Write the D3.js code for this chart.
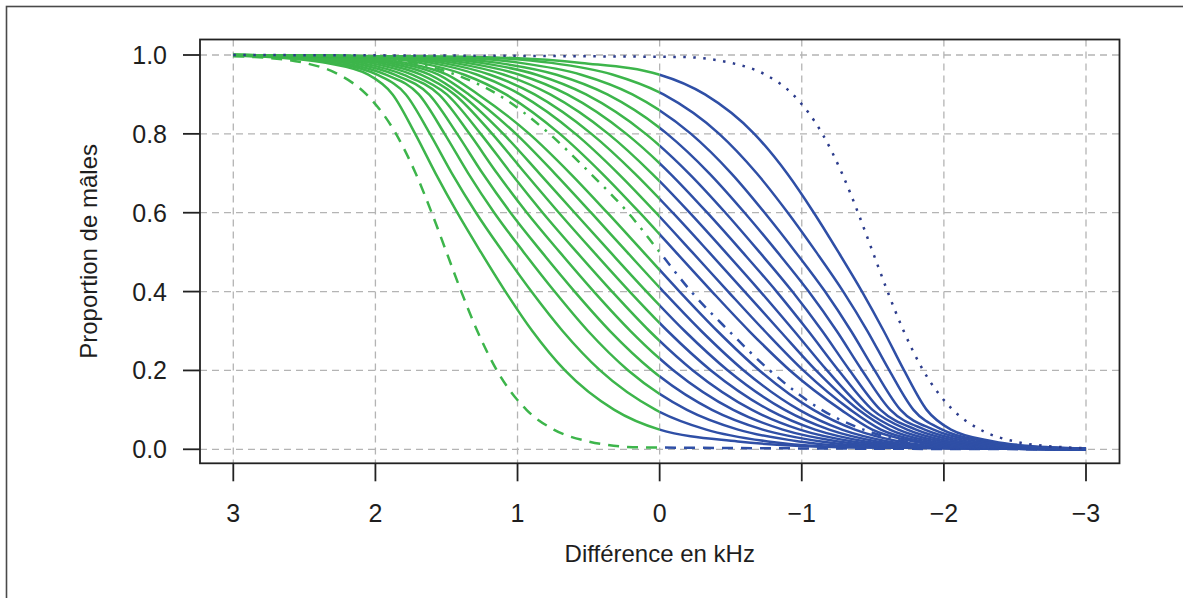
<!DOCTYPE html>
<html>
<head>
<meta charset="utf-8">
<script src="https://cdn.jsdelivr.net/npm/d3@7"></script>
<style>
  html, body { margin: 0; padding: 0; background: #fff; }
  svg { display: block; }
  text { font-family: "Liberation Sans", Arial, Helvetica, sans-serif; fill: #1e1e1e; }
</style>
</head>
<body>
<svg id="chart" width="1183" height="598"></svg>
<script>
// ---------- data ----------
const xTicks = [3, 2, 1, 0, -1, -2, -3];
const xTickLabels = ["3", "2", "1", "0", "\u22121", "\u22122", "\u22123"];
const yTicks = [0, 0.2, 0.4, 0.6, 0.8, 1.0];
const yTickLabels = ["0.0", "0.2", "0.4", "0.6", "0.8", "1.0"];
const xTitle = "Diff\u00e9rence en kHz";
const yTitle = "Proportion de m\u00e2les";

// proportion levels at which each curve's x position was read
const levels = [0.995, 0.98, 0.95, 0.9, 0.8, 0.7, 0.6, 0.5, 0.4, 0.3, 0.2, 0.1, 0.05, 0.02, 0.005];

// x (kHz) where each curve crosses the levels above
const curveDashed = [2.857, 2.498, 2.255, 2.063, 1.855, 1.717, 1.604, 1.5, 1.396, 1.283, 1.145, 0.937, 0.745, 0.502, 0.143];
const curveG01 = [2.75, 2.35, 2.05, 1.879, 1.72, 1.577, 1.424, 1.258, 1.085, 0.896, 0.666, 0.319, 0.0, -0.55, -1.30];
const curveG02 = [2.683, 2.288, 1.988, 1.786, 1.616, 1.462, 1.292, 1.102, 0.902, 0.683, 0.419, 0.027, -0.328, -0.761, -1.369];
const curveG03 = [2.616, 2.225, 1.927, 1.695, 1.513, 1.347, 1.164, 0.957, 0.739, 0.504, 0.221, -0.192, -0.552, -0.980, -1.548];
const curveG04 = [2.548, 2.163, 1.865, 1.623, 1.425, 1.246, 1.049, 0.829, 0.598, 0.349, 0.053, -0.368, -0.725, -1.136, -1.664];
const curveG05 = [2.481, 2.100, 1.804, 1.554, 1.338, 1.144, 0.934, 0.703, 0.463, 0.205, -0.098, -0.518, -0.866, -1.256, -1.747];
const curveG06 = [2.414, 2.038, 1.742, 1.498, 1.259, 1.046, 0.823, 0.583, 0.335, 0.072, -0.234, -0.650, -0.986, -1.357, -1.817];
const curveG07 = [2.347, 1.976, 1.680, 1.444, 1.178, 0.946, 0.709, 0.463, 0.211, -0.056, -0.361, -0.770, -1.094, -1.447, -1.882];
const curveG08 = [2.280, 1.913, 1.619, 1.399, 1.100, 0.847, 0.598, 0.347, 0.092, -0.176, -0.480, -0.880, -1.193, -1.530, -1.942];
const curveG09 = [2.212, 1.851, 1.557, 1.343, 1.011, 0.739, 0.482, 0.229, -0.026, -0.293, -0.592, -0.982, -1.283, -1.607, -2.000];
const curveG10 = [2.145, 1.788, 1.496, 1.277, 0.917, 0.630, 0.368, 0.114, -0.140, -0.406, -0.702, -1.082, -1.374, -1.686, -2.061];
const curveDashDot = [2.078, 1.726, 1.434, 1.140, 0.775, 0.488, 0.222, 0.0, -0.222, -0.488, -0.775, -1.140, -1.434, -1.726, -2.078];
const curveB01 = [2.061, 1.686, 1.374, 1.082, 0.702, 0.406, 0.140, -0.114, -0.368, -0.630, -0.917, -1.277, -1.496, -1.788, -2.145];
const curveB02 = [2.000, 1.607, 1.283, 0.982, 0.592, 0.293, 0.026, -0.229, -0.482, -0.739, -1.011, -1.343, -1.557, -1.851, -2.212];
const curveB03 = [1.942, 1.530, 1.193, 0.880, 0.480, 0.176, -0.092, -0.347, -0.598, -0.847, -1.100, -1.399, -1.619, -1.913, -2.280];
const curveB04 = [1.882, 1.447, 1.094, 0.770, 0.361, 0.056, -0.211, -0.463, -0.709, -0.946, -1.178, -1.444, -1.680, -1.976, -2.347];
const curveB05 = [1.817, 1.357, 0.986, 0.650, 0.234, -0.072, -0.335, -0.583, -0.823, -1.046, -1.259, -1.498, -1.742, -2.038, -2.414];
const curveB06 = [1.747, 1.256, 0.866, 0.518, 0.098, -0.205, -0.463, -0.703, -0.934, -1.144, -1.338, -1.554, -1.804, -2.100, -2.481];
const curveB07 = [1.664, 1.136, 0.725, 0.368, -0.053, -0.349, -0.598, -0.829, -1.049, -1.246, -1.425, -1.623, -1.865, -2.163, -2.548];
const curveB08 = [1.548, 0.980, 0.552, 0.192, -0.221, -0.504, -0.739, -0.957, -1.164, -1.347, -1.513, -1.695, -1.927, -2.225, -2.616];
const curveB09 = [1.369, 0.761, 0.328, -0.027, -0.419, -0.683, -0.902, -1.102, -1.292, -1.462, -1.616, -1.786, -1.988, -2.288, -2.683];
const curveB10 = [1.30, 0.55, 0.0, -0.319, -0.666, -0.896, -1.085, -1.258, -1.424, -1.577, -1.72, -1.879, -2.05, -2.35, -2.75];
const curveDotted = [-0.143, -0.502, -0.745, -0.937, -1.145, -1.283, -1.396, -1.5, -1.604, -1.717, -1.855, -2.063, -2.255, -2.498, -2.857];

// proportion at x = 3 (left end) and x = -3 (right end), same order as curveList
const endAt3 = [0.997, 0.998, 0.999, 0.999, 0.999, 0.999, 0.9993, 0.9993, 0.9995, 0.9995, 0.9995, 0.9995,
                0.9996, 0.9996, 0.9997, 0.9997, 0.9998, 0.9998, 0.9999, 0.9999, 0.9999, 0.9999, 1.0];
const endAtMinus3 = [0.0, 0.0001, 0.0001, 0.0001, 0.0001, 0.0002, 0.0002, 0.0002, 0.0003, 0.0003, 0.0004, 0.0005,
                     0.0005, 0.0005, 0.0007, 0.0008, 0.001, 0.001, 0.0012, 0.0015, 0.0018, 0.002, 0.003];
const curveList = [curveDashed, curveG01, curveG02, curveG03, curveG04, curveG05, curveG06, curveG07, curveG08, curveG09, curveG10,
                   curveDashDot,
                   curveB01, curveB02, curveB03, curveB04, curveB05, curveB06, curveB07, curveB08, curveB09, curveB10, curveDotted];
const curveTypes = ["dashed", "solid", "solid", "solid", "solid", "solid", "solid", "solid", "solid", "solid", "solid",
                    "dashdot",
                    "solid", "solid", "solid", "solid", "solid", "solid", "solid", "solid", "solid", "solid", "dotted"];

// ---------- layout ----------
const W = 1183, H = 598;
const box = { left: 200, right: 1119.5, top: 39.5, bottom: 463.3 };
const green = "#3db54b", blue = "#2f4fa6", blueDot = "#2c3c8c";
const lw = 2.5;

const svg = d3.select("#chart");

// outer frame
svg.append("rect").attr("x", 6.5).attr("y", 6.5).attr("width", W + 20).attr("height", H + 20)
  .attr("fill", "none").attr("stroke", "#4a4a4a").attr("stroke-width", 1.6);

const x = d3.scaleLinear().domain([3, -3]).range([233.3, 1086]);
const y = d3.scaleLinear().domain([0, 1]).range([449.3, 55]);

// grid
const grid = svg.append("g").attr("stroke", "#b4b4b4").attr("stroke-width", 1.3).attr("stroke-dasharray", "7,5");
grid.selectAll("line.v").data(xTicks).join("line").attr("class", "v")
  .attr("x1", d => x(d)).attr("x2", d => x(d)).attr("y1", box.top).attr("y2", box.bottom);
grid.selectAll("line.h").data(yTicks).join("line").attr("class", "h")
  .attr("x1", box.left).attr("x2", box.right).attr("y1", d => y(d)).attr("y2", d => y(d));

// clip paths: green for x >= 0, blue for x <= 0
const defs = svg.append("defs");
defs.append("clipPath").attr("id", "clipGreen").append("rect")
  .attr("x", box.left).attr("y", box.top).attr("width", x(0) - box.left).attr("height", box.bottom - box.top);
defs.append("clipPath").attr("id", "clipBlue").append("rect")
  .attr("x", x(0)).attr("y", box.top).attr("width", box.right - x(0)).attr("height", box.bottom - box.top);

const line = d3.line().x(d => x(d[0])).y(d => y(d[1])).curve(d3.curveMonotoneX);

function pointsFor(i) {
  const xs = curveList[i];
  const pts = [[3, endAt3[i]]];
  xs.forEach((xv, k) => pts.push([xv, levels[k]]));
  pts.push([-3, endAtMinus3[i]]);
  pts.sort((a, b) => b[0] - a[0]);
  return pts;
}
const dashFor = { solid: null, dashed: "11,8", dotted: "2.5,7.5", dashdot: "2.5,7.5,10,7.5" };

const gBlue = svg.append("g").attr("clip-path", "url(#clipBlue)");
const gGreen = svg.append("g").attr("clip-path", "url(#clipGreen)");
curveList.forEach((c, i) => {
  const d = line(pointsFor(i));
  const t = curveTypes[i];
  gBlue.append("path").attr("d", d).attr("fill", "none")
    .attr("stroke", t === "dotted" ? blueDot : blue).attr("stroke-width", lw)
    .attr("stroke-dasharray", dashFor[t]);
  gGreen.append("path").attr("d", d).attr("fill", "none")
    .attr("stroke", t === "dotted" ? blueDot : green).attr("stroke-width", lw)
    .attr("stroke-dasharray", dashFor[t]);
});

// plot box
svg.append("rect").attr("x", box.left).attr("y", box.top)
  .attr("width", box.right - box.left).attr("height", box.bottom - box.top)
  .attr("fill", "none").attr("stroke", "#222").attr("stroke-width", 1.8);

// y axis
const yAxis = svg.append("g");
yAxis.selectAll("line").data(yTicks).join("line")
  .attr("x1", box.left - 17).attr("x2", box.left).attr("y1", d => y(d)).attr("y2", d => y(d))
  .attr("stroke", "#222").attr("stroke-width", 1.8);
yAxis.selectAll("text").data(yTicks).join("text")
  .attr("x", 167).attr("y", d => y(d)).attr("dy", "0.36em").attr("text-anchor", "end")
  .attr("font-size", 25).text((d, i) => yTickLabels[i]);

// x axis
const xAxis = svg.append("g");
xAxis.selectAll("line").data(xTicks).join("line")
  .attr("x1", d => x(d)).attr("x2", d => x(d)).attr("y1", box.bottom).attr("y2", box.bottom + 18)
  .attr("stroke", "#222").attr("stroke-width", 1.8);
xAxis.selectAll("text").data(xTicks).join("text")
  .attr("x", d => x(d)).attr("y", 522).attr("text-anchor", "middle")
  .attr("font-size", 25).text((d, i) => xTickLabels[i]);

// titles
svg.append("text").attr("x", (box.left + box.right) / 2).attr("y", 562).attr("text-anchor", "middle")
  .attr("font-size", 24).text(xTitle);
svg.append("text").attr("transform", `translate(97, ${(box.top + box.bottom) / 2}) rotate(-90)`)
  .attr("text-anchor", "middle").attr("font-size", 24).text(yTitle);
</script>
</body>
</html>
